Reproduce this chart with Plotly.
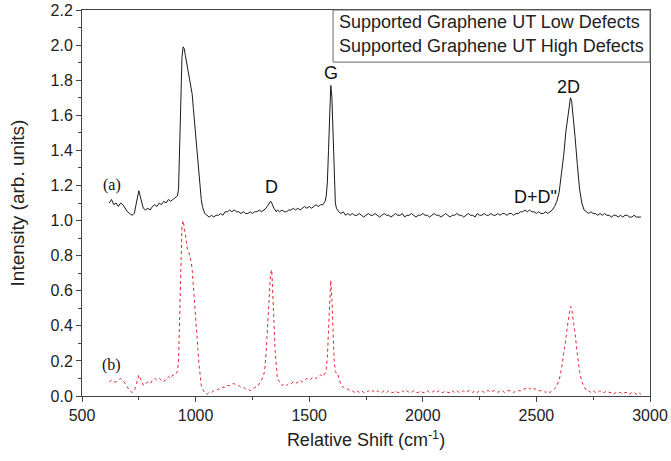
import plotly.graph_objects as go

# Raman shift grid (cm^-1), shared by both spectra
shift = [
    620, 630, 640, 650, 660, 670, 680, 690, 700, 710,
    720, 730, 740, 750, 760, 770, 780, 790, 800, 810,
    820, 830, 840, 850, 860, 870, 880, 890, 900, 910,
    920, 925, 930, 935, 940, 945, 950, 955, 960, 965,
    970, 975, 980, 985, 990, 995, 1000, 1005, 1010, 1015,
    1020, 1025, 1030, 1040, 1050, 1060, 1070, 1080, 1090, 1100,
    1110, 1120, 1130, 1140, 1150, 1160, 1170, 1180, 1190, 1200,
    1210, 1220, 1230, 1240, 1250, 1260, 1270, 1280, 1290, 1300,
    1305, 1310, 1315, 1320, 1325, 1330, 1335, 1340, 1345, 1350,
    1355, 1360, 1370, 1380, 1390, 1400, 1410, 1420, 1430, 1440,
    1450, 1460, 1470, 1480, 1490, 1500, 1510, 1520, 1530, 1540,
    1550, 1560, 1570, 1575, 1580, 1585, 1590, 1595, 1600, 1605,
    1610, 1615, 1620, 1625, 1630, 1640, 1650, 1660, 1670, 1680,
    1690, 1700, 1710, 1720, 1730, 1740, 1750, 1760, 1770, 1780,
    1790, 1800, 1810, 1820, 1830, 1840, 1850, 1860, 1870, 1880,
    1890, 1900, 1910, 1920, 1930, 1940, 1950, 1960, 1970, 1980,
    1990, 2000, 2010, 2020, 2030, 2040, 2050, 2060, 2070, 2080,
    2090, 2100, 2110, 2120, 2130, 2140, 2150, 2160, 2170, 2180,
    2190, 2200, 2210, 2220, 2230, 2240, 2250, 2260, 2270, 2280,
    2290, 2300, 2310, 2320, 2330, 2340, 2350, 2360, 2370, 2380,
    2390, 2400, 2410, 2420, 2430, 2440, 2450, 2460, 2470, 2480,
    2490, 2500, 2510, 2520, 2530, 2540, 2550, 2560, 2570, 2580,
    2590, 2600, 2610, 2620, 2630, 2640, 2645, 2650, 2655, 2660,
    2670, 2680, 2690, 2700, 2710, 2720, 2730, 2740, 2750, 2760,
    2770, 2780, 2790, 2800, 2810, 2820, 2830, 2840, 2850, 2860,
    2870, 2880, 2890, 2900, 2910, 2920, 2930, 2940, 2950, 2960,
]

# (a) Supported Graphene UT Low Defects
low_defects = [
    1.10, 1.12, 1.09, 1.10, 1.08, 1.10, 1.09, 1.07, 1.05, 1.04,
    1.03, 1.04, 1.10, 1.17, 1.12, 1.07, 1.06, 1.07, 1.06, 1.08,
    1.09, 1.08, 1.10, 1.09, 1.11, 1.10, 1.12, 1.11, 1.12, 1.13,
    1.14, 1.18, 1.42, 1.76, 1.93, 1.99, 1.98, 1.94, 1.90, 1.87,
    1.84, 1.80, 1.76, 1.72, 1.64, 1.56, 1.48, 1.41, 1.33, 1.25,
    1.18, 1.12, 1.08, 1.04, 1.03, 1.02, 1.03, 1.02, 1.03, 1.03,
    1.04, 1.03, 1.05, 1.05, 1.06, 1.05, 1.06, 1.05, 1.05, 1.04,
    1.05, 1.04, 1.04, 1.05, 1.04, 1.05, 1.05, 1.06, 1.05, 1.06,
    1.06, 1.07, 1.08, 1.09, 1.10, 1.11, 1.10, 1.08, 1.07, 1.06,
    1.05, 1.06, 1.05, 1.06, 1.05, 1.05, 1.06, 1.06, 1.07, 1.06,
    1.07, 1.06, 1.07, 1.08, 1.07, 1.08, 1.07, 1.08, 1.09, 1.08,
    1.09, 1.09, 1.11, 1.14, 1.22, 1.40, 1.64, 1.77, 1.70, 1.46,
    1.22, 1.10, 1.07, 1.06, 1.05, 1.04, 1.05, 1.03, 1.04, 1.03,
    1.04, 1.03, 1.03, 1.04, 1.03, 1.02, 1.03, 1.04, 1.03, 1.03,
    1.04, 1.03, 1.02, 1.03, 1.04, 1.03, 1.03, 1.02, 1.03, 1.04,
    1.03, 1.03, 1.04, 1.02, 1.03, 1.03, 1.04, 1.03, 1.02, 1.03,
    1.03, 1.04, 1.03, 1.03, 1.02, 1.03, 1.04, 1.03, 1.03, 1.02,
    1.03, 1.04, 1.03, 1.02, 1.03, 1.03, 1.04, 1.03, 1.03, 1.02,
    1.03, 1.04, 1.03, 1.03, 1.02, 1.04, 1.03, 1.03, 1.04, 1.03,
    1.03, 1.04, 1.03, 1.03, 1.04, 1.03, 1.04, 1.04, 1.03, 1.04,
    1.04, 1.03, 1.04, 1.04, 1.05, 1.05, 1.06, 1.05, 1.06, 1.05,
    1.05, 1.04, 1.05, 1.04, 1.04, 1.05, 1.04, 1.05, 1.06, 1.08,
    1.11, 1.16, 1.25, 1.37, 1.51, 1.62, 1.67, 1.70, 1.68, 1.62,
    1.48, 1.32, 1.18, 1.10, 1.06, 1.05, 1.04, 1.05, 1.04, 1.04,
    1.03, 1.04, 1.03, 1.04, 1.03, 1.03, 1.02, 1.03, 1.03, 1.02,
    1.03, 1.02, 1.03, 1.03, 1.02, 1.02, 1.03, 1.02, 1.02, 1.02,
]

# (b) Supported Graphene UT High Defects
high_defects = [
    0.08, 0.09, 0.08, 0.08, 0.09, 0.10, 0.09, 0.07, 0.05, 0.03,
    0.02, 0.03, 0.07, 0.12, 0.09, 0.06, 0.07, 0.08, 0.07, 0.09,
    0.10, 0.09, 0.10, 0.09, 0.08, 0.10, 0.11, 0.10, 0.12, 0.12,
    0.14, 0.20, 0.45, 0.82, 0.97, 1.00, 0.97, 0.92, 0.87, 0.83,
    0.82, 0.80, 0.77, 0.72, 0.64, 0.55, 0.46, 0.37, 0.27, 0.18,
    0.11, 0.06, 0.04, 0.02, 0.01, 0.02, 0.02, 0.03, 0.03, 0.04,
    0.04, 0.05, 0.05, 0.06, 0.06, 0.07, 0.07, 0.06, 0.06, 0.05,
    0.05, 0.04, 0.04, 0.03, 0.04, 0.05, 0.05, 0.07, 0.09, 0.12,
    0.16, 0.24, 0.36, 0.52, 0.64, 0.70, 0.72, 0.60, 0.42, 0.26,
    0.16, 0.10, 0.08, 0.06, 0.07, 0.06, 0.07, 0.07, 0.08, 0.07,
    0.08, 0.09, 0.08, 0.09, 0.10, 0.09, 0.10, 0.11, 0.10, 0.11,
    0.12, 0.11, 0.13, 0.15, 0.22, 0.38, 0.58, 0.66, 0.55, 0.34,
    0.20, 0.14, 0.13, 0.13, 0.10, 0.06, 0.05, 0.04, 0.04, 0.03,
    0.03, 0.02, 0.03, 0.02, 0.03, 0.02, 0.02, 0.03, 0.02, 0.03,
    0.02, 0.03, 0.02, 0.02, 0.03, 0.02, 0.03, 0.02, 0.02, 0.03,
    0.02, 0.02, 0.03, 0.02, 0.03, 0.02, 0.02, 0.03, 0.02, 0.02,
    0.03, 0.02, 0.02, 0.03, 0.02, 0.02, 0.03, 0.02, 0.03, 0.02,
    0.02, 0.03, 0.02, 0.02, 0.03, 0.02, 0.03, 0.02, 0.02, 0.03,
    0.02, 0.03, 0.03, 0.02, 0.03, 0.02, 0.03, 0.03, 0.02, 0.03,
    0.03, 0.02, 0.03, 0.03, 0.02, 0.03, 0.03, 0.02, 0.03, 0.03,
    0.03, 0.02, 0.03, 0.03, 0.03, 0.04, 0.04, 0.05, 0.04, 0.05,
    0.04, 0.04, 0.03, 0.03, 0.03, 0.02, 0.03, 0.02, 0.03, 0.04,
    0.06, 0.09, 0.15, 0.23, 0.33, 0.43, 0.48, 0.51, 0.50, 0.46,
    0.36, 0.24, 0.14, 0.08, 0.05, 0.03, 0.03, 0.02, 0.03, 0.02,
    0.02, 0.03, 0.02, 0.02, 0.03, 0.02, 0.02, 0.01, 0.02, 0.02,
    0.02, 0.01, 0.02, 0.02, 0.01, 0.02, 0.02, 0.01, 0.02, 0.01,
]

series_names = ["Supported Graphene UT Low Defects", "Supported Graphene UT High Defects"]

peak_labels = ["D", "G", "D+D\"", "2D"]
peak_label_x = [1332, 1596, 2498, 2643]
peak_label_y = [1.19, 1.84, 1.135, 1.76]

panel_labels = ["(a)", "(b)"]
panel_label_x = [632, 632]
panel_label_y = [1.20, 0.175]

SANS = "Liberation Sans, Arial, sans-serif"
SERIF = "Liberation Serif, Times New Roman, serif"

fig = go.Figure()
fig.add_trace(go.Scatter(
    x=shift, y=low_defects, mode="lines", name=series_names[0],
    line=dict(color="#1a1a1a", width=1), showlegend=False,
))
fig.add_trace(go.Scatter(
    x=shift, y=high_defects, mode="lines", name=series_names[1],
    line=dict(color="#e3262e", width=1, dash="dot"), showlegend=False,
))

for t, xv, yv in zip(peak_labels, peak_label_x, peak_label_y):
    fig.add_annotation(x=xv, y=yv, text=t, showarrow=False,
                       font=dict(family=SANS, size=18, color="#111"))
for t, xv, yv in zip(panel_labels, panel_label_x, panel_label_y):
    fig.add_annotation(x=xv, y=yv, text=t, showarrow=False,
                       font=dict(family=SERIF, size=16, color="#111"))

# Legend box (as in the reference: text entries inside a framed box)
fig.add_shape(type="rect", xref="paper", yref="paper",
              x0=0.442, x1=1.0, y0=0.865, y1=1.0,
              line=dict(color="#666", width=1), fillcolor="white", layer="above")
for i, name in enumerate(series_names):
    fig.add_annotation(xref="paper", yref="paper", x=0.449, y=[0.969, 0.907][i],
                       xanchor="left", yanchor="middle", text=name, showarrow=False,
                       font=dict(family=SANS, size=18, color="#222"))

axis_common = dict(
    showline=True, linecolor="#444", linewidth=1, mirror=True,
    ticks="outside", ticklen=5, tickwidth=1, tickcolor="#444",
    showgrid=False, zeroline=False, automargin=False,
    tickfont=dict(family=SANS, size=16, color="#222"),
)

fig.update_xaxes(
    range=[500, 3000], dtick=500, tick0=500,
    minor=dict(ticks="outside", ticklen=3, dtick=250, tick0=500, tickcolor="#444"),
    title=dict(text="Relative Shift (cm<sup>-1</sup>)", standoff=10,
               font=dict(family=SANS, size=18, color="#222")),
    **axis_common,
)
fig.update_yaxes(
    range=[0, 2.2], dtick=0.2, tick0=0, tickformat=".1f",
    minor=dict(ticks="outside", ticklen=3, dtick=0.1, tick0=0, tickcolor="#444"),
    title=dict(text="Intensity (arb. units)", standoff=20,
               font=dict(family=SANS, size=19, color="#222")),
    **axis_common,
)

fig.update_layout(
    width=671, height=461,
    margin=dict(l=82, r=21, t=10, b=65),
    plot_bgcolor="white", paper_bgcolor="white",
    showlegend=False,
)

fig.write_html("out.html", config={"displayModeBar": False},
               post_script="document.body.style.margin='0';document.body.style.overflow='hidden';")
